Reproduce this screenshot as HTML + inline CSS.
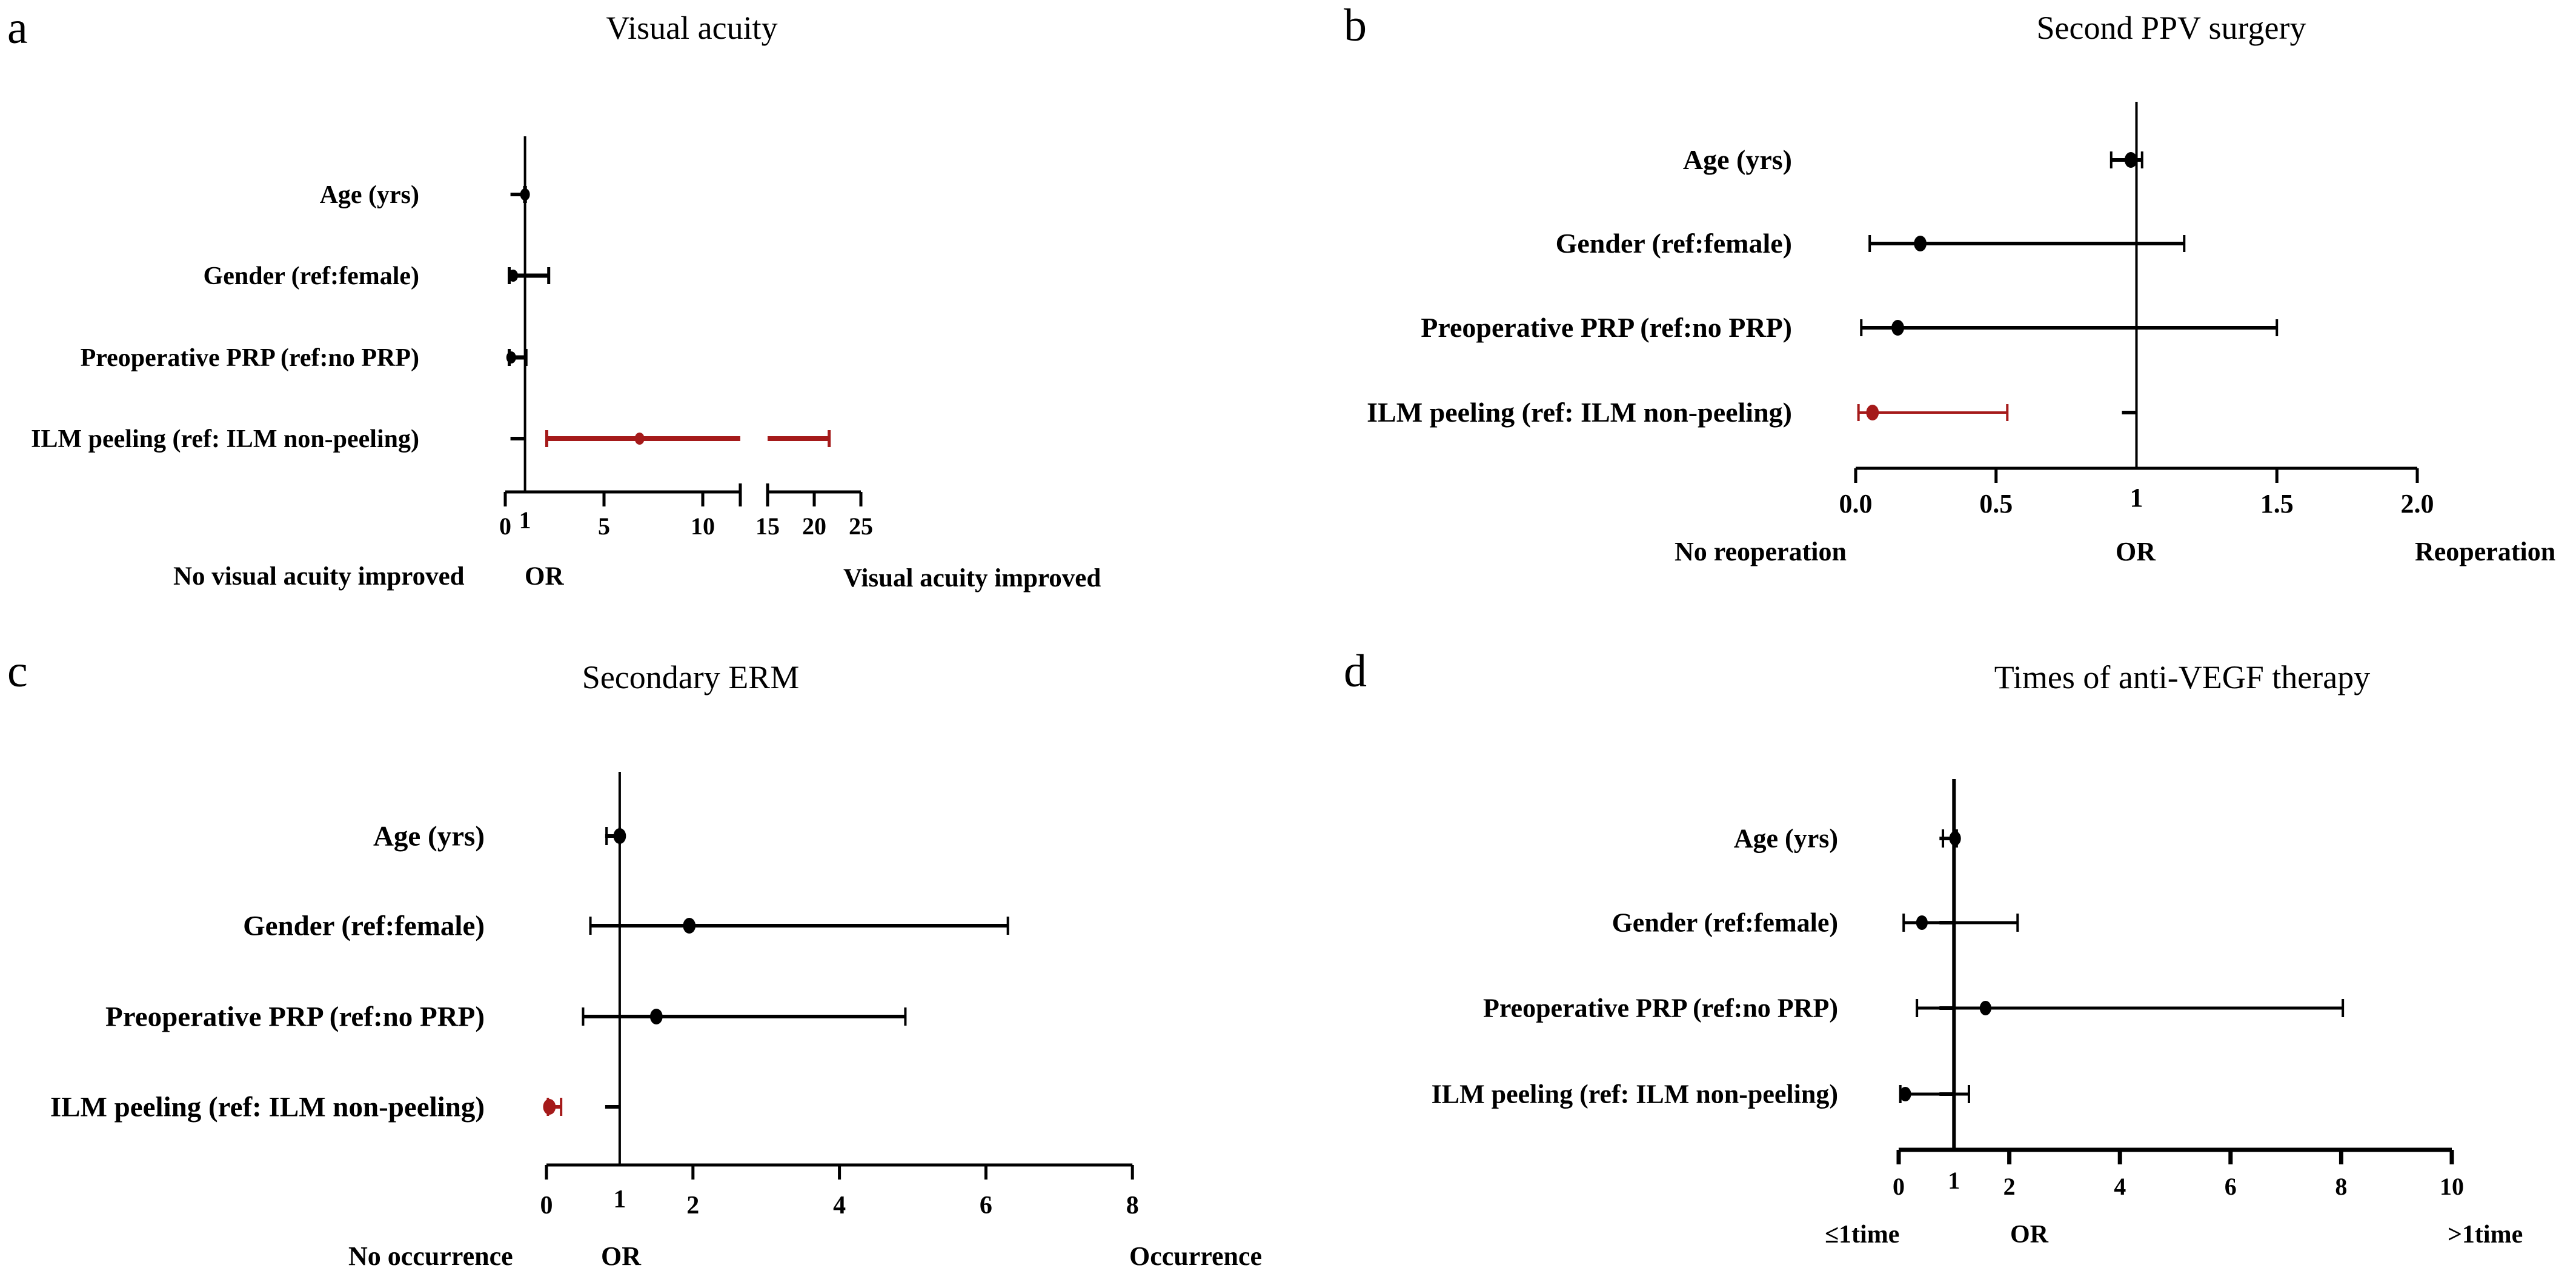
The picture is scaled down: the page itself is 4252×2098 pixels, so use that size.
<!DOCTYPE html>
<html><head><meta charset="utf-8"><style>
html,body{margin:0;padding:0;background:#fff}
svg{display:block}
text{font-family:"Liberation Serif",serif;fill:#000}
.b{font-weight:bold}
</style></head><body>
<svg id="fig" width="4252" height="2098" viewBox="0 0 4252 2098" xmlns="http://www.w3.org/2000/svg">
<g>
<text x="12" y="71" font-size="76">a</text>
<text x="1142" y="64" font-size="54" text-anchor="middle">Visual acuity</text>
<text class="b" x="286" y="965" font-size="43">No visual acuity improved</text>
<text class="b" x="866" y="965" font-size="43">OR</text>
<text class="b" x="1392" y="968" font-size="43">Visual acuity improved</text>
</g>
<g>
<text x="2218" y="67" font-size="76">b</text>
<text x="3584" y="64" font-size="54" text-anchor="middle">Second PPV surgery</text>
<text class="b" x="2764" y="925" font-size="44">No reoperation</text>
<text class="b" x="3492" y="925" font-size="44">OR</text>
<text class="b" x="3986" y="925" font-size="44">Reoperation</text>
</g>
<g>
<text x="12" y="1133" font-size="76">c</text>
<text x="1140" y="1136" font-size="54" text-anchor="middle">Secondary ERM</text>
<text class="b" x="575" y="2088" font-size="44">No occurrence</text>
<text class="b" x="992" y="2088" font-size="44">OR</text>
<text class="b" x="1864" y="2088" font-size="44">Occurrence</text>
</g>
<g>
<text x="2218" y="1133" font-size="76">d</text>
<text x="3602" y="1136" font-size="54" text-anchor="middle">Times of anti-VEGF therapy</text>
<text class="b" x="3012" y="2051" font-size="42">≤1time</text>
<text class="b" x="3318" y="2051" font-size="42">OR</text>
<text class="b" x="4040" y="2051" font-size="42">&gt;1time</text>
</g>
</svg>
<script>
// Shared categories
const categories = ["Age (yrs)", "Gender (ref:female)", "Preoperative PRP (ref:no PRP)", "ILM peeling (ref: ILM non-peeling)"];

// Panel a: Visual acuity
const aOR = [1.0, 0.4, 0.3, 6.8];
const aLower = [0.98, 0.2, 0.2, 2.1];
const aUpper = [1.02, 2.2, 1.05, 21.6];
const aTicks = [0, 1, 5, 10, 15, 20, 25];
const aTickLabels = ["0", "1", "5", "10", "15", "20", "25"];

// Panel b: Second PPV surgery
const bOR = [0.98, 0.23, 0.15, 0.06];
const bLower = [0.91, 0.05, 0.02, 0.01];
const bUpper = [1.02, 1.17, 1.5, 0.54];
const bTicks = [0, 0.5, 1, 1.5, 2];
const bTickLabels = ["0.0", "0.5", "1", "1.5", "2.0"];

// Panel c: Secondary ERM
const cOR = [1.0, 1.95, 1.5, 0.04];
const cLower = [0.82, 0.6, 0.5, 0.02];
const cUpper = [1.0, 6.3, 4.9, 0.2];
const cTicks = [0, 1, 2, 4, 6, 8];
const cTickLabels = ["0", "1", "2", "4", "6", "8"];

// Panel d: Times of anti-VEGF therapy
const dOR = [1.02, 0.42, 1.57, 0.12];
const dLower = [0.8, 0.09, 0.33, 0.03];
const dUpper = [1.05, 2.15, 8.03, 1.27];
const dTicks = [0, 1, 2, 4, 6, 8, 10];
const dTickLabels = ["0", "1", "2", "4", "6", "8", "10"];

const NS = "http://www.w3.org/2000/svg";
const svg = document.getElementById("fig");
function mk(tag, attrs, parent) {
  const e = document.createElementNS(NS, tag);
  for (const k in attrs) e.setAttribute(k, attrs[k]);
  (parent || svg).appendChild(e);
  return e;
}

function drawPanel(p) {
  const g = mk("g", {});
  
  
  const x1 = p.x(1);
  const vl = mk("line", {x1: x1, x2: x1, y1: p.vTop, y2: p.axisY, stroke: "#000", "stroke-width": p.vw}, g);
  
  
  p.axisSegs.forEach(function (s) {
    const al = mk("line", {x1: p.x(s[0]), x2: p.x(s[1]), y1: p.axisY, y2: p.axisY, stroke: "#000", "stroke-width": p.aw}, g);
    
    
  });
  (p.breakCaps || []).forEach(function (v) {
    const bc = mk("line", {x1: p.x(v), x2: p.x(v), y1: p.axisY - 14, y2: p.axisY + 24, stroke: "#000", "stroke-width": p.aw}, g);
    
    
  });
  p.ticks.forEach(function (t, i) {
    const tx = p.x(t);
    if (t !== 1 || p.tick1) {
      const tl = mk("line", {x1: tx, x2: tx, y1: p.axisY, y2: p.axisY + 24, stroke: "#000", "stroke-width": p.aw}, g);
      
      
    }
    const lab = mk("text", {x: tx, y: p.tickY - (t === 1 ? 10 : 0), "font-size": p.tfs, "text-anchor": "middle", "class": "b"}, g);
    lab.textContent = p.tickLabels[i];
    
    
  });
  categories.forEach(function (c, i) {
    const y = p.rows[i];
    const yt = mk("line", {x1: x1 - 24, x2: x1, y1: y, y2: y, stroke: "#000", "stroke-width": 6}, g);
    
    
    const lab = mk("text", {x: p.labelX, y: y + p.lfs * 0.33, "font-size": p.lfs, "text-anchor": "end", "class": "b"}, g);
    lab.textContent = c;
    
    
    const col = p.red[i] ? "#a51a1a" : "#000";
    const lw = p.red[i] ? p.rlw : p.lw;
    const lo = p.lower[i], hi = p.upper[i];
    let segs = [[lo, hi]];
    if (p.brk && lo < p.brk[0] && hi > p.brk[1]) segs = [[lo, p.brk[0]], [p.brk[1], hi]];
    segs.forEach(function (s) {
      const ci = mk("line", {x1: p.x(s[0]), x2: p.x(s[1]), y1: y, y2: y, stroke: col, "stroke-width": lw}, g);
      
      
    });
    [lo, hi].forEach(function (v) {
      const cap = mk("line", {x1: p.x(v), x2: p.x(v), y1: y - p.cap, y2: y + p.cap, stroke: col, "stroke-width": p.capw}, g);
      
      
    });
    const pt = mk("ellipse", {cx: p.x(p.or[i]), cy: y, rx: p.r * 0.8, ry: p.r, fill: col}, g);
    
    
  });
}

drawPanel({id: "a", x: function (v) { return v <= 12 ? 834 + v * 32.6 : (v < 15 ? 1267 : 1267 + (v - 15) * 15.4); },
  or: aOR, lower: aLower, upper: aUpper, ticks: aTicks, tickLabels: aTickLabels,
  axisY: 812, vTop: 225, vw: 4, aw: 5, tickY: 882, tfs: 40, rows: [321, 455, 590, 724], labelX: 692, lfs: 42,
  red: [0, 0, 0, 1], lw: 7, rlw: 8, capw: 5, cap: 14, r: 10, tick1: false,
  axisSegs: [[0, 11.9], [15, 25]], breakCaps: [11.9, 15], brk: [11.9, 15]});
drawPanel({id: "b", x: function (v) { return 3063 + v * 463.5; },
  or: bOR, lower: bLower, upper: bUpper, ticks: bTicks, tickLabels: bTickLabels,
  axisY: 773, vTop: 168, vw: 4, aw: 5, tickY: 846, tfs: 44, rows: [264, 402, 541, 681], labelX: 2958, lfs: 46,
  red: [0, 0, 0, 1], lw: 6, rlw: 4, capw: 4, cap: 14, r: 13, tick1: false,
  axisSegs: [[0, 2]]});
drawPanel({id: "c", x: function (v) { return 902 + v * 120.9; },
  or: cOR, lower: cLower, upper: cUpper, ticks: cTicks, tickLabels: cTickLabels,
  axisY: 1923, vTop: 1274, vw: 4, aw: 5, tickY: 2003, tfs: 42, rows: [1380, 1528, 1678, 1827], labelX: 800, lfs: 47,
  red: [0, 0, 0, 1], lw: 6, rlw: 6, capw: 4, cap: 15, r: 13, tick1: false,
  axisSegs: [[0, 8]]});
drawPanel({id: "d", x: function (v) { return 3134 + v * 91.3; },
  or: dOR, lower: dLower, upper: dUpper, ticks: dTicks, tickLabels: dTickLabels,
  axisY: 1898, vTop: 1286, vw: 6, aw: 7, tickY: 1972, tfs: 40, rows: [1384, 1523, 1664, 1806], labelX: 3034, lfs: 44,
  red: [0, 0, 0, 0], lw: 5, rlw: 5, capw: 4, cap: 15, r: 12, tick1: false,
  axisSegs: [[0, 10]]});
</script>
</body></html>
